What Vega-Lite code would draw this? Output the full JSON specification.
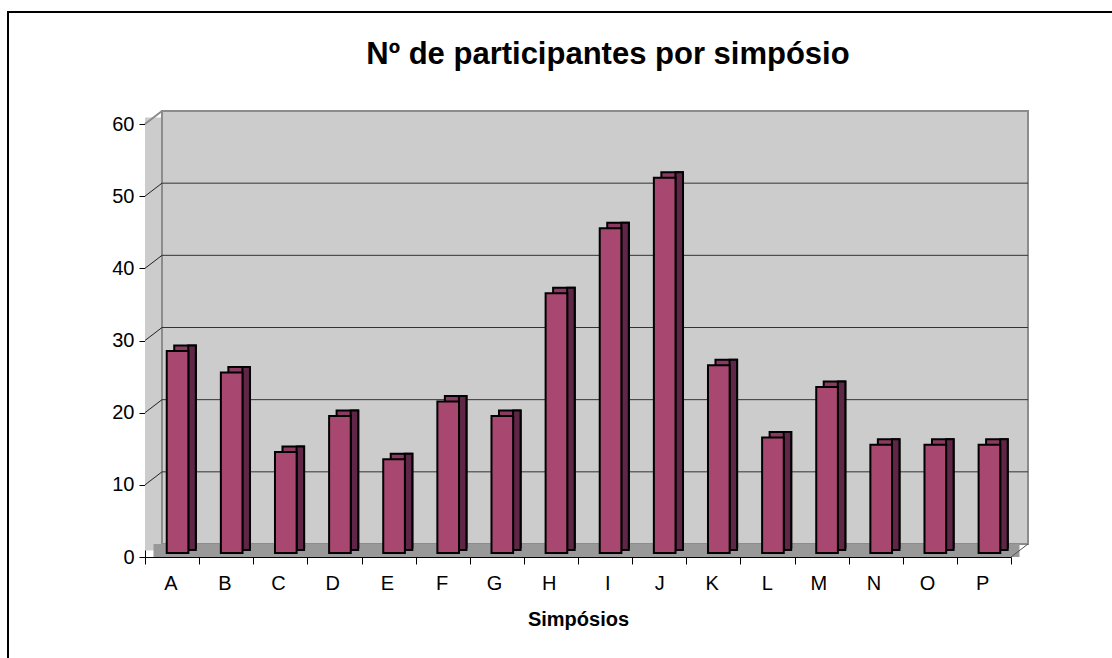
{
  "$schema": "https://vega.github.io/schema/vega-lite/v6.json",
  "width": 866,
  "height": 433,
  "autosize": {"type": "none"},
  "padding": {"left": 145, "top": 124, "right": 101, "bottom": 101},
  "background": "white",
  "config": {"view": {"stroke": null}, "font": "Liberation Sans"},
  "title": {"text": "Nº de participantes por simpósio", "fontSize": 31, "fontWeight": "bold", "color": "black", "anchor": "middle", "dx": 30, "dy": 64},
  "data": {"values": [
    {"simposio": "A", "participantes": 28},
    {"simposio": "B", "participantes": 25},
    {"simposio": "C", "participantes": 14},
    {"simposio": "D", "participantes": 19},
    {"simposio": "E", "participantes": 13},
    {"simposio": "F", "participantes": 21},
    {"simposio": "G", "participantes": 19},
    {"simposio": "H", "participantes": 36},
    {"simposio": "I", "participantes": 45},
    {"simposio": "J", "participantes": 52},
    {"simposio": "K", "participantes": 26},
    {"simposio": "L", "participantes": 16},
    {"simposio": "M", "participantes": 23},
    {"simposio": "N", "participantes": 15},
    {"simposio": "O", "participantes": 15},
    {"simposio": "P", "participantes": 15}
  ]},
  "layer": [
    {
      "data": {"values": [{}]},
      "mark": {"type": "rect", "fill": "#cccccc", "x2Offset": 17, "yOffset": -6.5, "y2Offset": -6.5},
      "encoding": {
        "x": {"datum": "A", "type": "nominal", "bandPosition": 0},
        "x2": {"datum": "A", "bandPosition": 0},
        "y": {"datum": 60, "type": "quantitative"},
        "y2": {"datum": 0}
      }
    },
    {
      "data": {"values": [{}]},
      "mark": {"type": "rect", "fill": "#cccccc", "stroke": "#8c8c8c", "strokeWidth": 2, "xOffset": 17, "x2Offset": 17, "yOffset": -13, "y2Offset": -13},
      "encoding": {
        "x": {"datum": "A", "type": "nominal", "bandPosition": 0},
        "x2": {"datum": "P", "bandPosition": 1},
        "y": {"datum": 60, "type": "quantitative"},
        "y2": {"datum": 0}
      }
    },
    {
      "data": {"values": [{}]},
      "mark": {"type": "rect", "fill": "#999999", "xOffset": 8.5, "x2Offset": 8.5, "yOffset": -13, "y2Offset": 0},
      "encoding": {
        "x": {"datum": "A", "type": "nominal", "bandPosition": 0},
        "x2": {"datum": "P", "bandPosition": 1},
        "y": {"datum": 0, "type": "quantitative"},
        "y2": {"datum": 0}
      }
    },
    {
      "data": {"values": [{"g": 10}, {"g": 20}, {"g": 30}, {"g": 40}, {"g": 50}]},
      "mark": {"type": "rule", "stroke": "#333333", "strokeWidth": 1, "xOffset": 17, "x2Offset": 17, "yOffset": -13},
      "encoding": {
        "x": {"datum": "A", "type": "nominal", "bandPosition": 0},
        "x2": {"datum": "P", "bandPosition": 1},
        "y": {"field": "g", "type": "quantitative", "title": null}
      }
    },
    {
      "data": {"values": [{"g": 10}, {"g": 20}, {"g": 30}, {"g": 40}, {"g": 50}]},
      "mark": {"type": "rule", "stroke": "#222222", "strokeWidth": 1, "x2Offset": 17, "y2Offset": -13},
      "encoding": {
        "x": {"datum": "A", "type": "nominal", "bandPosition": 0},
        "x2": {"datum": "A", "bandPosition": 0},
        "y": {"field": "g", "type": "quantitative", "title": null},
        "y2": {"field": "g"}
      }
    },
    {
      "data": {"values": [{}]},
      "mark": {"type": "rule", "stroke": "#8c8c8c", "strokeWidth": 2, "x2Offset": 17, "y2Offset": -13},
      "encoding": {
        "x": {"datum": "A", "type": "nominal", "bandPosition": 0},
        "x2": {"datum": "A", "bandPosition": 0},
        "y": {"datum": 60, "type": "quantitative"},
        "y2": {"datum": 60}
      }
    },
    {
      "data": {"values": [{}]},
      "mark": {"type": "rule", "stroke": "#555555", "strokeWidth": 1, "x2Offset": 17, "y2Offset": -13},
      "encoding": {
        "x": {"datum": "P", "type": "nominal", "bandPosition": 1},
        "x2": {"datum": "P", "bandPosition": 1},
        "y": {"datum": 0, "type": "quantitative"},
        "y2": {"datum": 0}
      }
    },
    {
      "mark": {"type": "bar", "fill": "#8b3a62", "stroke": "black", "strokeWidth": 2, "width": {"band": 0.4}, "xOffset": 13, "yOffset": -9.5, "y2Offset": -9.5},
      "encoding": {
        "x": {"field": "simposio", "type": "nominal"},
        "y": {"field": "participantes", "type": "quantitative"},
        "y2": {"datum": 0}
      }
    },
    {
      "mark": {"type": "bar", "fill": "#5f2647", "stroke": "black", "strokeWidth": 2, "width": {"band": 0.1386}, "xOffset": 20, "yOffset": -9.5, "y2Offset": -7},
      "encoding": {
        "x": {"field": "simposio", "type": "nominal"},
        "y": {"field": "participantes", "type": "quantitative"},
        "y2": {"datum": 0}
      }
    },
    {
      "mark": {"type": "bar", "fill": "#a8476f", "stroke": "black", "strokeWidth": 2, "width": {"band": 0.4}, "xOffset": 5.5, "yOffset": -4, "y2Offset": -4},
      "encoding": {
        "x": {
          "field": "simposio", "type": "nominal",
          "scale": {"paddingInner": 0, "paddingOuter": 0},
          "axis": {"title": "Simpósios", "titleFontSize": 20, "titleFontWeight": "bold", "titleColor": "black", "titlePadding": 16, "labelAngle": 0, "labelFontSize": 20, "labelColor": "black", "labelPadding": 19, "labelOffset": 5, "tickBand": "extent", "tickSize": 7, "tickColor": "black", "domainColor": "black", "grid": false}
        },
        "y": {
          "field": "participantes", "type": "quantitative",
          "scale": {"domain": [0, 60], "nice": false},
          "axis": {"title": null, "values": [0, 10, 20, 30, 40, 50, 60], "labelFontSize": 20, "labelColor": "black", "labelPadding": 5, "tickSize": 6, "tickColor": "black", "domainColor": "black", "grid": false}
        },
        "y2": {"datum": 0}
      }
    },
    {
      "data": {"values": [{}]},
      "mark": {"type": "rect", "filled": false, "stroke": "black", "strokeWidth": 2, "xOffset": -137, "x2Offset": 110, "yOffset": -112, "y2Offset": 113},
      "encoding": {
        "x": {"datum": "A", "type": "nominal", "bandPosition": 0},
        "x2": {"datum": "P", "bandPosition": 1},
        "y": {"datum": 60, "type": "quantitative"},
        "y2": {"datum": 0}
      }
    }
  ]
}
